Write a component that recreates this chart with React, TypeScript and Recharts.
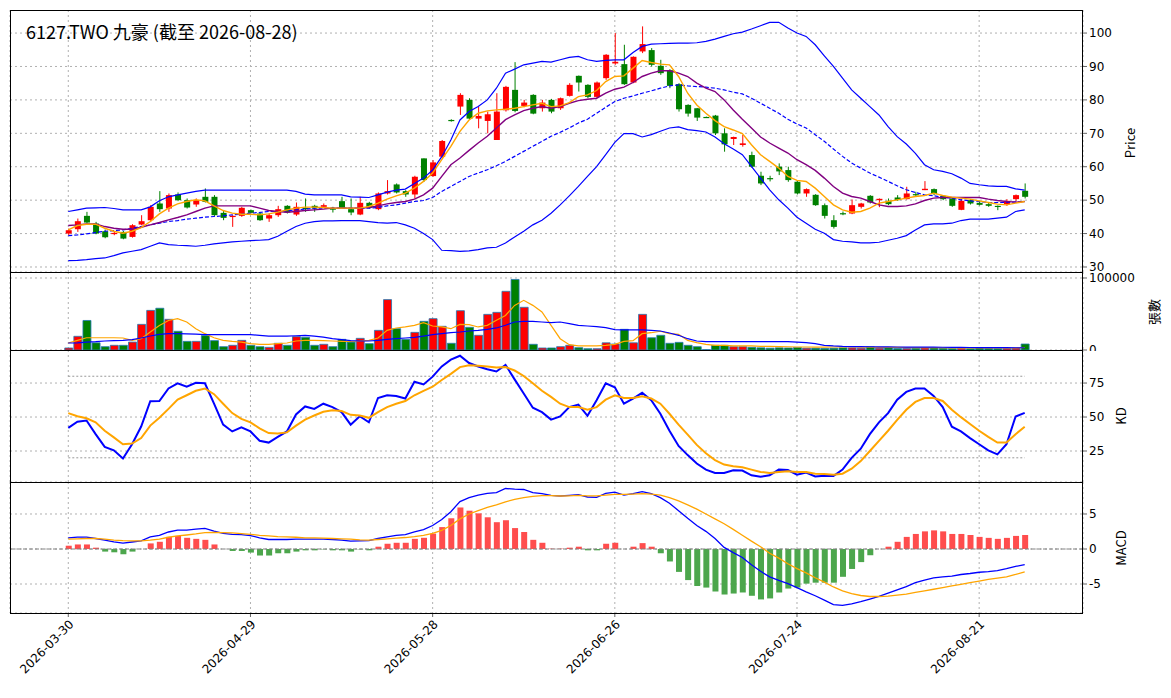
import React from 'react';
import {
  ComposedChart, Bar, Line, XAxis, YAxis, CartesianGrid, Cell, ReferenceLine,
} from 'recharts';

const tickIndexes = [0, 20, 40, 60, 80, 100];
const tickLabels = ['2026-03-30', '2026-04-29', '2026-05-28', '2026-06-26', '2026-07-24', '2026-08-21'];

const opens = [
  40, 41.3, 45.3, 43, 40.7, 40, 40.5, 39, 42.7, 44,
  49, 47.5, 51.7, 50, 48.7, 51, 51, 46.2, 45, 45.3,
  47, 46, 44.5, 45.5, 48.3, 45.7, 47.7, 48.3, 48, 47.5,
  49.7, 47.3, 45.7, 49.2, 47.3, 52, 54.7, 52.7, 51.7, 62.5,
  57.2, 63, 74, 78, 80, 74.4, 73.7, 68, 76.9, 83,
  78.2, 81.5, 77.5, 80, 77.5, 81.2, 87.2, 84.5, 80.9, 86.5,
  90.9, 90.7, 85.2, 94.5, 94.9, 90.2, 88.9, 84.7, 78.5, 77.5,
  74.9, 75.3, 70, 68.3, 66.5, 63.5, 57.3, 56.6, 60, 59,
  55.5, 52, 51.6, 48.5, 44, 46.1, 46, 48, 51.3, 50,
  49.8, 50.8, 50.3, 51.8, 53, 53.3, 51.3, 50.5, 47.1, 50,
  49.2, 48.8, 48.3, 48.8, 50.3, 52.8,
];
const closes = [
  41, 43.7, 43.3, 40, 38.9, 40.2, 38.5, 42.5, 43.7, 48,
  47.3, 51.5, 50, 47.8, 50, 49.5, 45.5, 44.7, 45.3, 47.7,
  46.2, 44, 45.5, 47.3, 46.3, 48, 47.5, 47.5, 48.5, 47.3,
  47.7, 46.3, 49.2, 47.7, 52, 52.7, 52.3, 51.7, 57, 56,
  61.3, 67.7, 73.8, 81.5, 74.4, 75.2, 75.7, 76.5, 83.9, 76.7,
  79.2, 75.9, 79.2, 76.5, 80.5, 84.5, 85.2, 80.9, 85.2, 93.5,
  91.4, 84.7, 92.9, 96.7, 90.5, 88, 84.2, 77.2, 75.9, 74.7,
  74.8, 70, 66.7, 68.9, 67, 60, 55, 56.4, 58.6, 56,
  52, 53.3, 48.5, 45.3, 42, 46, 48.5, 49, 49.3, 50.4,
  48.8, 50, 52, 51.7, 53.4, 51.8, 50.3, 48.3, 49.8, 49,
  48.6, 48.3, 48, 49.8, 51.5, 51,
];
const highs = [
  41.5, 44.5, 46.5, 43.5, 41.2, 40.8, 40.8, 42.8, 45.5, 48.5,
  52.7, 52, 52.3, 50.5, 50.5, 53.5, 51.5, 47, 45.5, 48,
  47.2, 46.5, 46, 48.3, 48.5, 49.3, 50.5, 48.6, 49, 48,
  51, 50.5, 51, 49.5, 52.3, 56, 55, 53, 57.3, 62.5,
  62, 68, 74.2, 82, 80.5, 78, 76.5, 82, 84.2, 91.3,
  80, 81.7, 80, 80.3, 80.7, 85, 87.3, 84.7, 85.5, 93.7,
  100, 96.5, 93, 102, 95.5, 92, 89.2, 85, 78.7, 77.6,
  75, 75.5, 71.5, 69, 69.5, 64.5, 58.5, 57.3, 61, 60,
  55.7, 53.5, 51.8, 49, 45.5, 46.6, 50.2, 49.2, 51.5, 50.5,
  50.5, 51.5, 54, 52.5, 55.7, 53.5, 51.5, 50.6, 50.3, 50.3,
  49.8, 49.2, 48.4, 50.3, 51.7, 55,
];
const lows = [
  39.5, 40.5, 43, 39.8, 38.6, 39.5, 38.3, 38.8, 42.5, 43.5,
  46.5, 46.5, 49.7, 47.5, 48, 49.3, 45.3, 44, 42, 45,
  46, 43.8, 43.5, 45, 46, 45.3, 46.5, 46.5, 47.8, 46.3,
  47.5, 45.5, 45.5, 47.5, 47, 51.7, 52, 51, 50.5, 55.5,
  57, 62.5, 73.5, 75.5, 74, 71.5, 70, 68, 76.5, 76.3,
  77.8, 75.7, 76.5, 76, 77, 81, 82.5, 80.5, 80.5, 86,
  90.5, 84.5, 85, 94, 90, 87.5, 83.5, 76.5, 75, 73.7,
  74.7, 69.5, 64.5, 66.5, 66, 59.7, 54.5, 55.6, 57.5, 55.5,
  51.7, 51, 48.3, 44.5, 41.5, 45.5, 45.8, 47.5, 49, 47.9,
  48.5, 49.8, 50.2, 51.2, 53, 51.5, 50, 48, 47, 48.7,
  48.4, 48, 47, 48.3, 49.8, 50.5,
];
const volumes = [
  2.8, 19, 41, 10, 4.6, 6.5, 6.5, 11, 35.6, 55,
  58, 42.6, 26, 12, 12, 20, 13, 4.6, 6.5, 13.4,
  6.5, 4.6, 3.7, 9.3, 6.5, 18.5, 17.6, 6.5, 7.9, 4.6,
  14.8, 11, 16.2, 8.8, 27.3, 70, 29.6, 14.8, 24.5, 39.8,
  43.5, 32.9, 9.3, 54.6, 31.5, 20.4, 49.5, 52.3, 81.5, 98,
  59.3, 7.9, 2.8, 2.8, 4.6, 6.5, 3.2, 1.8, 1.8, 10,
  8.3, 28.7, 10, 49.5, 17, 20.4, 9.3, 10.6, 6.5, 4.6,
  0.5, 6.5, 6.5, 4.6, 4.6, 3.7, 3, 2.5, 3, 2.8,
  3.5, 2.5, 2.5, 2.2, 2.5, 3, 2.8, 2.5, 4.5, 2.5,
  3, 2, 2.2, 2.5, 3, 2.8, 2.5, 2.2, 2.6, 2,
  2.8, 2.5, 2.2, 2.5, 2.8, 8.3,
];
const ma5 = [
  41.1, 42.4, 42.8, 42.8, 41.6, 40.7, 40.1, 40.7, 41.8, 43.6,
  45.9, 47.6, 48.9, 49.6, 50.1, 49.8, 48.3, 46.9, 46.1, 45.8,
  45.8, 45.6, 45.9, 46.4, 47.1, 47.6, 47.9, 47.9, 47.8, 47.6,
  47.6, 47.6, 47.6, 48.1, 49.1, 50.3, 51.3, 52.1, 53.6, 55.6,
  58.1, 62.1, 66.1, 70.6, 74, 76, 76.7, 77, 77.2, 77.5,
  78, 78.5, 79, 78, 78.2, 79.2, 81, 81.5, 82.8, 85.5,
  87, 87.2, 89.5, 91.8, 91.2, 90.7, 90.5, 87, 82, 78.5,
  76, 73.8, 72, 71, 69.9, 66.6, 63.6, 61.6, 59.6, 57.1,
  55.9, 55.6, 53.6, 51.1, 48.6, 47.1, 46.4, 46.6, 47.6, 49.1,
  49.6, 50.1, 50.6, 51.1, 51.4, 52.1, 51.4, 50.9, 50.6, 50.3,
  49.8, 49.3, 48.8, 48.6, 49.1, 49.6,
];
const ma10 = [
  42.4, 42.6, 42.9, 42.9, 42.1, 41.6, 41.3, 41.3, 41.9, 42.6,
  43.3, 44.1, 44.8, 45.6, 46.6, 47.6, 48.3, 48.3, 48.3, 48.3,
  48.3, 47.6, 46.9, 46.6, 46.4, 46.6, 46.9, 47.1, 47.3, 47.6,
  47.6, 47.6, 47.6, 47.8, 48.3, 48.9, 49.3, 49.6, 50.3, 51.6,
  53.6, 57.1, 60.6, 62.6, 64.9, 67.1, 69.1, 71.6, 74.1, 75.5,
  76.8, 77.5, 78, 77.5, 78, 79, 79.8, 80.2, 80.5, 82,
  83.2, 83.8, 85.2, 87, 88, 88.7, 88.7, 88, 87, 85,
  83.5, 82.5, 80, 77, 74.2, 71.6, 68.9, 67.1, 65.6, 64.1,
  62.1, 60.6, 58.9, 56.6, 54.1, 52.1, 51.1, 50.6, 49.6, 48.6,
  48.1, 48.1, 48.3, 48.9, 49.9, 50.6, 50.8, 50.8, 50.8, 50.8,
  50.8, 50.3, 49.9, 49.6, 49.4, 49.6,
];
const ma20 = [
  39.4, 39.6, 39.9, 40.3, 40.7, 40.9, 41.1, 41.6, 42.1, 42.6,
  43.1, 43.6, 43.9, 44.3, 44.6, 44.9, 45.1, 45.3, 45.6, 45.8,
  46.1, 46.3, 46.6, 46.6, 46.8, 47.1, 47.3, 47.6, 47.6, 47.6,
  47.6, 47.6, 47.6, 47.6, 47.8, 48.3, 48.6, 49.1, 49.6, 49.9,
  50.8, 52.6, 54.1, 55.6, 57.1, 58.1, 59.1, 60.3, 61.6, 63.1,
  64.6, 66.1, 67.6, 69.1, 70.3, 71.6, 73.1, 74.2, 76, 77.8,
  79.5, 80.5, 81.2, 82, 82.7, 83.5, 84.2, 84.5, 84.2, 84,
  83.8, 83.5, 83, 82.3, 81.8, 80.5, 79, 77.5, 76, 74.2,
  72.8, 71.6, 69.6, 67.6, 65.3, 63.1, 61.1, 59.6, 58.1, 56.9,
  55.6, 54.3, 53.1, 52.3, 51.6, 51.3, 50.9, 50.6, 50.1, 49.8,
  49.6, 49.3, 49.3, 49.3, 49.5, 49.6,
];
const bbUpper = [
  46.6, 47.1, 47.6, 47.7, 47.8, 47.5, 47.1, 47.1, 47.1, 48,
  49.8, 51, 51.6, 52.1, 52.6, 53, 53, 53, 53, 53,
  53, 53, 53, 53, 53, 52.6, 51.8, 51.6, 51.6, 51.6,
  51.6, 51, 50.9, 50.8, 51.6, 52.4, 53, 53.3, 55, 56.6,
  59, 63, 68, 74, 76.5, 78, 80, 83.5, 88, 89.2,
  90.5, 91, 91.5, 91.3, 92, 92.7, 93, 92, 91.5, 91.8,
  92, 92, 94.2, 96, 96.7, 96.8, 96.9, 97, 97, 97.1,
  97.5, 98.2, 99, 99.8, 100.3, 101.2, 102.2, 103.2, 103.2, 101.5,
  100, 99, 96.5, 93.2, 90, 86.5, 83, 80.5, 78, 75.5,
  72, 69, 66.8, 64, 60.6, 59.1, 58.6, 57.9, 56.6, 55,
  54.6, 54.3, 54.1, 54.1, 53.4, 53,
];
const bbLower = [
  31.9, 32, 32.2, 32.5, 32.7, 33.4, 34.2, 34.7, 35.2, 36.2,
  37.2, 36.7, 36.5, 36.4, 36.2, 36.5, 36.9, 37.2, 37.5, 37.7,
  37.9, 38, 38.2, 39.2, 40.7, 42.1, 43.1, 43.6, 43.8, 43.8,
  43.9, 43.9, 43.9, 43.6, 43.3, 43.1, 43.3, 42.6, 41.6, 40,
  38.2, 35, 34.9, 34.7, 34.8, 35.2, 35.7, 35.9, 37.2, 39,
  40.7, 42.6, 44, 46.1, 48.6, 51.3, 54.1, 57.1, 60, 63.6,
  67.3, 69.9, 69.9, 68.9, 69.6, 70.6, 71.6, 71.9, 71.1, 70.8,
  70.4, 68.9, 66.9, 65.3, 63.6, 60.1, 56.6, 53.1, 50.1, 47.6,
  44.9, 43.1, 41.3, 40.1, 38.2, 37.7, 37.5, 37.2, 37.2, 37.4,
  38, 38.6, 39.4, 41.1, 42.6, 42.9, 42.9, 43.1, 43.9, 44.3,
  44.3, 44.3, 44.6, 44.9, 46.6, 47.1,
];
const volMa5 = [
  9.7, 13.4, 17, 17, 17, 17, 16.7, 13.4, 15.7, 25,
  34, 41, 43.5, 39, 29.6, 22.7, 17, 13.4, 12, 11,
  8.8, 7.9, 7.9, 8.8, 9.7, 12.5, 13.4, 13.4, 13, 12.5,
  12, 12, 12.5, 13.4, 16.7, 27.3, 30.6, 32, 34.3, 38,
  33.3, 32, 29.6, 35.6, 35.2, 32, 34.3, 41.2, 48, 62,
  69, 62, 52.8, 34.3, 15.7, 7.4, 5.6, 5.6, 5.6, 6.5,
  7.9, 12, 13, 22.7, 24, 26, 22.7, 21.8, 13.4, 10.2,
  7.9, 6.5, 6.5, 5.6, 5.6, 5.6, 5, 5, 4.8, 4.5,
  4.2, 4.2, 4, 4, 4.2, 4.5, 4.3, 4, 3.8, 3.7,
  3.7, 3.6, 3.5, 3.4, 3.3, 3.2, 3.1, 3, 3, 2.9,
  2.9, 2.8, 2.8, 2.8, 2.8, 3.5,
];
const volMa20 = [
  9.7, 10, 11, 11.5, 12.5, 13, 13.4, 14.4, 16.7, 19.4,
  21.8, 22.7, 22.7, 22.5, 22, 21.3, 21.3, 21.3, 21.3, 21.3,
  21.3, 20.4, 19.4, 19.4, 19.4, 19.8, 20.4, 19.4, 18, 15.7,
  14.4, 13, 12.5, 12.5, 13.4, 14.8, 15.7, 16.7, 17.5, 19.4,
  21.3, 22.7, 24, 25, 26.4, 27.3, 28.7, 30.6, 34.3, 38.9,
  39.8, 39.8, 38.9, 38, 38.9, 36.6, 34.3, 33.3, 32.4, 31,
  28.2, 28, 28, 28, 27.3, 26.4, 23.6, 20.4, 15.7, 12.5,
  11.6, 11.6, 11.6, 11.6, 11.6, 11.6, 11.6, 11.6, 11.6, 11.6,
  11, 10.2, 8.8, 6.5, 5.6, 5, 4.8, 4.6, 4.5, 4.4,
  4.3, 4.2, 4.1, 4, 4, 3.9, 3.8, 3.7, 3.6, 3.5,
  3.4, 3.3, 3.2, 3.2, 3.1, 3.1,
];
const kValues = [
  42, 46.6, 47.4, 37.4, 28, 25.5, 19.5, 30, 43, 61.6,
  61.8, 71, 74.8, 72.3, 75.2, 74.8, 59.8, 44.4, 39.4, 42.4,
  39.4, 32.5, 31.2, 35.4, 39.4, 51.9, 57.8, 56, 59.8, 57.3,
  53.6, 44.4, 50.6, 46.1, 64, 66, 65.5, 63.6, 76, 74,
  79.7, 87.2, 92.2, 95.1, 89.7, 87.2, 85.2, 83.5, 88.4, 77.7,
  67.3, 56.8, 53.6, 48.1, 50.4, 57.3, 59.1, 50.9, 62.3, 74.8,
  71.8, 59.8, 63.6, 67.8, 62.3, 52.4, 39.9, 28.7, 22, 15.8,
  11.3, 8.8, 8.8, 10.8, 10.6, 7.1, 6.1, 7.1, 11.3, 11,
  7.6, 9.1, 6.3, 6.8, 6.6, 11.3, 20, 26.7, 37.4, 46.1,
  52.9, 62.8, 68.5, 71, 71, 65.5, 57.3, 42.9, 39.4, 34.5,
  30, 25.5, 22.5, 30, 50.4, 53.1,
];
const dValues = [
  52.9, 50.6, 49.1, 46.1, 39.9, 35, 30, 30.5, 34.5, 43.7,
  49.4, 56, 62.8, 66, 69.3, 71, 66.8, 59.8, 52.9, 48.6,
  46.1, 41.7, 38.2, 37.9, 38.7, 43.7, 48.1, 51.1, 53.9, 54.9,
  54.4, 51.6, 51.1, 49.4, 53.6, 57.3, 59.8, 61.8, 66, 69.3,
  72.3, 77.2, 81.7, 86.7, 88, 87.7, 87.2, 86.4, 86.7, 84.2,
  80.2, 74.8, 69.3, 64.8, 59.8, 57.3, 57.3, 55.3, 57.3, 62.8,
  66, 64, 64, 65.3, 63.6, 59.8, 52.4, 44.4, 37, 29.5,
  23.3, 18.3, 15, 13.8, 13, 11.3, 9.6, 8.8, 9.6, 10.1,
  9.6, 9.6, 8.3, 8.1, 7.6, 8.3, 12, 17.6, 25, 32.5,
  39.9, 47.9, 55.3, 61.1, 64, 64, 61.8, 55.3, 49.9, 44.9,
  39.9, 35.4, 31.2, 31.2, 37.4, 42.9,
];
const difValues = [
  1.6, 1.7, 1.7, 1.5, 1.26, 1.03, 0.84, 1.0, 1.17, 1.73,
  1.96, 2.43, 2.7, 2.7, 2.85, 2.94, 2.57, 2.24, 2.1, 2.06,
  1.92, 1.6, 1.36, 1.36, 1.36, 1.4, 1.4, 1.4, 1.4, 1.36,
  1.26, 1.12, 1.17, 1.2, 1.5, 1.73, 1.96, 2.06, 2.43, 2.76,
  3.36, 4.2, 5.33, 6.78, 7.34, 7.71, 7.94, 8.04, 8.64, 8.55,
  8.5, 8.04, 7.9, 7.66, 7.57, 7.66, 7.76, 7.43, 7.38, 7.94,
  8.13, 7.71, 7.9, 8.18, 7.9, 7.34, 6.54, 5.47, 4.39, 3.36,
  2.52, 1.5, 0.23, -0.51, -1.21, -2.24, -3.18, -3.97, -4.49, -4.95,
  -5.51, -6.12, -6.68, -7.29, -7.94, -8.04, -7.85, -7.52, -7.15, -6.78,
  -6.31, -5.84, -5.37, -4.81, -4.44, -4.11, -3.97, -3.88, -3.64, -3.5,
  -3.32, -3.22, -3.08, -2.8, -2.48, -2.24,
];
const signalValues = [
  1.4, 1.45, 1.5, 1.5, 1.4, 1.26, 1.2, 1.17, 1.17, 1.26,
  1.4, 1.68, 1.87, 2.0, 2.15, 2.34, 2.38, 2.34, 2.29, 2.2,
  2.1, 1.96, 1.87, 1.78, 1.73, 1.68, 1.6, 1.6, 1.54, 1.5,
  1.45, 1.4, 1.3, 1.26, 1.36, 1.45, 1.54, 1.64, 1.78, 1.96,
  2.24, 2.66, 3.36, 4.3, 5.0, 5.47, 5.93, 6.31, 6.73, 7.1,
  7.34, 7.52, 7.62, 7.62, 7.57, 7.6, 7.65, 7.6, 7.6, 7.7,
  7.8, 7.8, 7.85, 7.9, 7.85, 7.71, 7.34, 6.87, 6.31, 5.7,
  5.0, 4.3, 3.6, 2.8, 1.96, 1.12, 0.33, -0.6, -1.3, -2.1,
  -2.8, -3.41, -4.1, -4.72, -5.42, -5.98, -6.36, -6.64, -6.78, -6.78,
  -6.73, -6.59, -6.45, -6.21, -5.98, -5.75, -5.51, -5.28, -5.05, -4.81,
  -4.58, -4.35, -4.16, -3.97, -3.64, -3.27,
];
const histValues = [
  0.47, 0.65, 0.65, 0.19, -0.37, -0.47, -0.75, -0.37, 0, 0.8,
  1.03, 1.73, 1.87, 1.6, 1.45, 1.31, 0.65, 0, -0.28, -0.28,
  -0.51, -0.93, -0.93, -0.61, -0.61, -0.37, -0.19, -0.19, -0.05, -0.19,
  -0.19, -0.37, -0.05, -0.19, 0.33, 0.75, 0.89, 0.89, 1.45, 1.6,
  2.2, 3.13, 4.39, 5.93, 5.47, 5.09, 4.53, 3.83, 4.11, 2.99,
  2.43, 1.31, 0.89, 0.05, 0.05, 0.19, 0.33, -0.19, -0.19, 0.75,
  0.89, 0, 0.33, 0.84, 0.33, -0.61, -1.78, -3.27, -4.44, -5.28,
  -5.51, -6.07, -6.5, -6.36, -6.21, -6.68, -7.2, -7.06, -6.21, -5.65,
  -5.51, -4.95, -4.81, -4.81, -4.81, -3.97, -2.85, -1.87, -0.89, 0,
  0.33, 1.03, 1.73, 2.15, 2.52, 2.66, 2.52, 2.15, 2.15, 2.0,
  1.73, 1.59, 1.45, 1.59, 1.87, 2.0,
];

const data = closes.map((c, i) => ({
  i,
  open: opens[i], close: c, high: highs[i], low: lows[i],
  range: [lows[i], highs[i]],
  volume: volumes[i] * 1000,
  volMa5: volMa5[i] * 1000, volMa20: volMa20[i] * 1000,
  ma5: ma5[i], ma10: ma10[i], ma20: ma20[i], upper: bbUpper[i], lower: bbLower[i],
  k: kValues[i], d: dValues[i],
  dif: difValues[i], signal: signalValues[i], hist: histValues[i],
}));

const RED = '#ff0000';
const GREEN = '#008000';
const FONT = 'DejaVu Sans, sans-serif';
const W = 1171;
const LEFT = 10;
const RIGHT = 8;
const AXIS_W = 80;
const X_DOMAIN: [number, number] = [-6.4, 111.4];
const tickStyle = { fontSize: 12, fill: '#000', fontFamily: FONT };

const Candle = (props: any) => {
  const { x, y, width, height, payload } = props;
  if (!payload) return null;
  const { open, close, high, low } = payload;
  const color = close >= open ? RED : GREEN;
  const top = Math.min(y, y + height);
  const h = Math.abs(height);
  const scale = high > low ? h / (high - low) : 0;
  const bodyTop = top + (high - Math.max(open, close)) * scale;
  const bodyH = Math.max(1.2, Math.abs(close - open) * scale);
  const cx = x + width / 2;
  return (
    <g>
      <line x1={cx} x2={cx} y1={top} y2={top + h} stroke={color} strokeWidth={1} />
      <rect x={x} y={bodyTop} width={width} height={bodyH} fill={color} />
    </g>
  );
};

const EmptyTick = () => <g />;

const xAxisHidden = (
  <XAxis dataKey="i" type="number" domain={X_DOMAIN} ticks={tickIndexes} interval={0}
    tick={EmptyTick} tickLine={false} axisLine={false} height={1} allowDataOverflow />
);

const grid = <CartesianGrid stroke="#b0b0b0" strokeDasharray="2 3" />;

const panelStyle = (top: number): React.CSSProperties => ({ position: 'absolute', left: 0, top });

const sideLabel = (text: string, x: number, y: number) => (
  <div style={{
    position: 'absolute', left: x, top: y, transform: 'translate(-50%, -50%) rotate(-90deg)',
    fontFamily: 'Noto Sans CJK TC, DejaVu Sans, sans-serif', fontSize: 13, whiteSpace: 'nowrap',
  }}>{text}</div>
);

const frame = (top: number, height: number) => (
  <div style={{
    position: 'absolute', left: LEFT, top, width: W - LEFT - RIGHT - AXIS_W, height,
    border: '1px solid #000', boxSizing: 'border-box', pointerEvents: 'none',
  }} />
);

export default function App() {
  const plotMargin = { top: 0, bottom: 0, left: LEFT, right: RIGHT };
  return (
    <div style={{ position: 'relative', left: -8, top: -8, width: W, height: 698, background: '#fff' }}>
      <div style={panelStyle(10)}>
        <ComposedChart width={W} height={263} data={data} margin={plotMargin}>
          {grid}
          {xAxisHidden}
          <YAxis orientation="right" domain={[28.5, 106.9]} ticks={[30, 40, 50, 60, 70, 80, 90, 100]} interval={0}
            width={AXIS_W} tick={tickStyle} axisLine={false} tickSize={4} allowDataOverflow />
          <Bar dataKey="range" barSize={6} shape={Candle} isAnimationActive={false} />
          <Line dataKey="upper" stroke="#0000ff" strokeWidth={1.2} dot={false} isAnimationActive={false} />
          <Line dataKey="lower" stroke="#0000ff" strokeWidth={1.2} dot={false} isAnimationActive={false} />
          <Line dataKey="ma20" stroke="#0000ff" strokeWidth={1.2} strokeDasharray="4 2" dot={false} isAnimationActive={false} />
          <Line dataKey="ma10" stroke="#800080" strokeWidth={1.4} dot={false} isAnimationActive={false} />
          <Line dataKey="ma5" stroke="#ffa500" strokeWidth={1.4} dot={false} isAnimationActive={false} />
        </ComposedChart>
      </div>
      <div style={panelStyle(272)}>
        <ComposedChart width={W} height={79} data={data} margin={plotMargin}>
          {grid}
          {xAxisHidden}
          <YAxis orientation="right" domain={[0, 108333]} ticks={[0, 100000]} interval={0}
            width={AXIS_W} tick={tickStyle} axisLine={false} tickSize={4} allowDataOverflow />
          <Bar dataKey="volume" barSize={8} isAnimationActive={false} stroke="#1f77b4" strokeWidth={0.8}>
            {data.map((d) => <Cell key={d.i} fill={d.close >= d.open ? RED : GREEN} />)}
          </Bar>
          <Line dataKey="volMa5" stroke="#ffa500" strokeWidth={1.2} dot={false} isAnimationActive={false} />
          <Line dataKey="volMa20" stroke="#0000ff" strokeWidth={1.2} dot={false} isAnimationActive={false} />
        </ComposedChart>
      </div>
      <div style={panelStyle(350)}>
        <ComposedChart width={W} height={133} data={data} margin={plotMargin}>
          {grid}
          {xAxisHidden}
          <YAxis orientation="right" domain={[2.2, 99.3]} ticks={[25, 50, 75]} interval={0}
            width={AXIS_W} tick={tickStyle} axisLine={false} tickSize={4} allowDataOverflow />
          <ReferenceLine segment={[{ x: 0, y: 80 }, { x: 105, y: 80 }]} stroke="#999" strokeDasharray="2 2" />
          <ReferenceLine segment={[{ x: 0, y: 20 }, { x: 105, y: 20 }]} stroke="#999" strokeDasharray="2 2" />
          <Line dataKey="k" stroke="#0000ff" strokeWidth={2} dot={false} isAnimationActive={false} />
          <Line dataKey="d" stroke="#ffa500" strokeWidth={2} dot={false} isAnimationActive={false} />
        </ComposedChart>
      </div>
      <div style={panelStyle(482)}>
        <ComposedChart width={W} height={201} data={data}
          margin={{ top: 0, bottom: 0, left: LEFT, right: RIGHT }}>
          {grid}
          <XAxis dataKey="i" type="number" domain={X_DOMAIN} ticks={tickIndexes} height={70} interval={0}
            tickFormatter={(v: number) => tickLabels[tickIndexes.indexOf(v)] ?? ''}
            tick={{ ...tickStyle, angle: -45, textAnchor: 'end' }} axisLine={false} tickSize={4} allowDataOverflow />
          <YAxis orientation="right" domain={[-9.14, 9.57]} ticks={[-5, 0, 5]} interval={0}
            width={AXIS_W} tick={tickStyle} axisLine={false} tickSize={4} allowDataOverflow />
          <ReferenceLine y={0} stroke="#808080" strokeDasharray="4 2" />
          <Bar dataKey="hist" barSize={6} isAnimationActive={false}>
            {data.map((d) => <Cell key={d.i} fill={d.hist >= 0 ? '#ff4d4d' : '#4ca64c'} />)}
          </Bar>
          <Line dataKey="dif" stroke="#0000ff" strokeWidth={1.3} dot={false} isAnimationActive={false} />
          <Line dataKey="signal" stroke="#ffa500" strokeWidth={1.3} dot={false} isAnimationActive={false} />
        </ComposedChart>
      </div>
      {frame(10, 263)}
      {frame(272, 79)}
      {frame(350, 133)}
      {frame(482, 132)}
      <div style={{
        position: 'absolute', left: 26, top: 18, fontSize: 18,
        fontFamily: 'Noto Sans CJK TC, DejaVu Sans, sans-serif',
      }}>6127.TWO 九豪 (截至 2026-08-28)</div>
      {sideLabel('Price', 1129, 143)}
      {sideLabel('張數', 1153, 312)}
      {sideLabel('KD', 1120, 416)}
      {sideLabel('MACD', 1120, 548)}
    </div>
  );
}
